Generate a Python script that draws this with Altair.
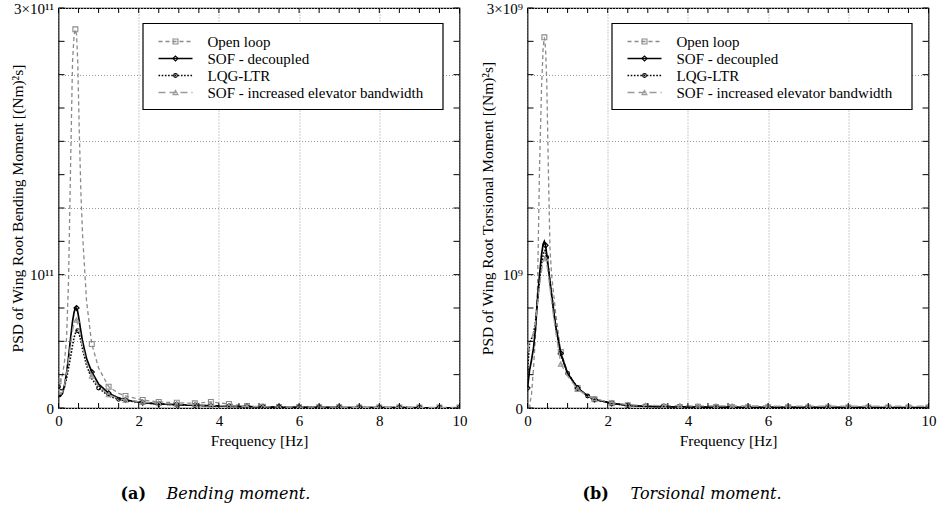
import altair as alt
import pandas as pd

# ---------------- data ----------------
freq = [0, 0.05, 0.1, 0.15, 0.2, 0.25, 0.3, 0.35, 0.39, 0.42, 0.45, 0.48, 0.52, 0.56, 0.6,
        0.7, 0.83, 1.0, 1.25, 1.5, 1.67, 2.1, 2.5, 2.95, 3.4, 3.8, 4.25, 4.7, 5.1, 5.5,
        6.0, 6.5, 7.0, 7.5, 8.0, 8.5, 9.0, 9.5, 10.0]

series_names = ["Open loop", "SOF - decoupled", "LQG-LTR", "SOF - increased elevator bandwidth"]

# Bending moment PSD, units of 1e11 (Nm)^2 s
bend_open = [0.20, 0.20, 0.25, 0.35, 0.52, 0.95, 1.80, 2.60, 2.80, 2.84, 2.80, 2.60, 2.05, 1.60, 1.30,
             0.80, 0.48, 0.30, 0.16, 0.11, 0.09, 0.06, 0.045, 0.04, 0.035, 0.045, 0.03, 0.015, 0.01, 0.007,
             0.006, 0.005, 0.005, 0.004, 0.004, 0.004, 0.003, 0.003, 0.003]
bend_sof = [0.10, 0.09, 0.11, 0.17, 0.26, 0.38, 0.52, 0.65, 0.72, 0.75, 0.75, 0.72, 0.65, 0.57, 0.50,
            0.37, 0.27, 0.18, 0.11, 0.075, 0.06, 0.04, 0.03, 0.025, 0.02, 0.017, 0.013, 0.01, 0.008, 0.006,
            0.005, 0.004, 0.004, 0.003, 0.003, 0.003, 0.002, 0.002, 0.002]
bend_lqg = [0.16, 0.14, 0.13, 0.16, 0.22, 0.30, 0.38, 0.47, 0.53, 0.56, 0.58, 0.58, 0.55, 0.50, 0.44,
            0.32, 0.22, 0.15, 0.09, 0.065, 0.055, 0.04, 0.03, 0.025, 0.02, 0.016, 0.012, 0.009, 0.007, 0.006,
            0.005, 0.004, 0.004, 0.003, 0.003, 0.003, 0.002, 0.002, 0.002]
bend_inc = [0.12, 0.11, 0.12, 0.17, 0.25, 0.36, 0.47, 0.58, 0.64, 0.66, 0.66, 0.63, 0.58, 0.52, 0.46,
            0.34, 0.24, 0.16, 0.10, 0.07, 0.06, 0.045, 0.035, 0.03, 0.025, 0.02, 0.016, 0.012, 0.01, 0.008,
            0.007, 0.006, 0.006, 0.005, 0.005, 0.005, 0.004, 0.004, 0.004]

# Torsional moment PSD, units of 1e9 (Nm)^2 s
tors_open = [0.0, 0.02, 0.10, 0.30, 0.55, 0.90, 1.80, 2.40, 2.70, 2.78, 2.70, 2.45, 1.80, 1.20, 1.00,
             0.72, 0.42, 0.27, 0.15, 0.09, 0.065, 0.035, 0.02, 0.012, 0.01, 0.008, 0.01, 0.008, 0.006, 0.005,
             0.005, 0.005, 0.004, 0.004, 0.004, 0.004, 0.003, 0.003, 0.003]
tors_sof = [0.15, 0.28, 0.36, 0.45, 0.60, 0.82, 1.00, 1.15, 1.23, 1.25, 1.22, 1.15, 1.05, 0.95, 0.85,
            0.62, 0.41, 0.26, 0.15, 0.09, 0.065, 0.035, 0.02, 0.012, 0.01, 0.008, 0.007, 0.006, 0.006, 0.005,
            0.005, 0.005, 0.004, 0.004, 0.004, 0.004, 0.003, 0.003, 0.003]
tors_lqg = [0.28, 0.48, 0.52, 0.56, 0.65, 0.80, 0.95, 1.08, 1.15, 1.18, 1.18, 1.13, 1.05, 0.95, 0.86,
            0.62, 0.40, 0.26, 0.15, 0.09, 0.065, 0.035, 0.02, 0.012, 0.01, 0.008, 0.007, 0.006, 0.006, 0.005,
            0.005, 0.005, 0.004, 0.004, 0.004, 0.004, 0.003, 0.003, 0.003]
tors_inc = [0.45, 0.50, 0.52, 0.56, 0.64, 0.78, 0.92, 1.03, 1.10, 1.12, 1.12, 1.08, 1.00, 0.90, 0.80,
            0.58, 0.33, 0.24, 0.14, 0.09, 0.07, 0.04, 0.025, 0.02, 0.018, 0.017, 0.016, 0.016, 0.015, 0.015,
            0.015, 0.014, 0.014, 0.014, 0.013, 0.013, 0.013, 0.013, 0.013]

# frequencies that carry a marker, per series
markers_open = [0, 0.42, 0.83, 1.25, 1.67, 2.1, 2.5, 2.95, 3.4, 3.8, 4.25, 4.7, 5.1, 5.5, 6.0, 6.5, 7.0,
                7.5, 8.0, 8.5, 9.0, 9.5, 10.0]
markers_sof = [0, 0.45, 0.83, 1.25, 1.67, 2.1, 2.5, 2.95, 3.4, 3.8, 4.25, 4.7, 5.1, 5.5, 6.0, 6.5, 7.0,
               7.5, 8.0, 8.5, 9.0, 9.5, 10.0]
markers_lqg = [0, 0.48, 1.0, 1.5, 2.1, 2.5, 2.95, 3.4, 3.8, 4.25, 4.7, 5.1, 5.5, 6.0, 6.5, 7.0,
               7.5, 8.0, 8.5, 9.0, 9.5, 10.0]
markers_inc = [0, 0.45, 0.83, 1.25, 1.67, 2.1, 2.5, 2.95, 3.4, 3.8, 4.25, 4.7, 5.1, 5.5, 6.0, 6.5, 7.0,
               7.5, 8.0, 8.5, 9.0, 9.5, 10.0]

x_ticks = [0, 0.5, 1, 1.5, 2, 2.5, 3, 3.5, 4, 4.5, 5, 5.5, 6, 6.5, 7, 7.5, 8, 8.5, 9, 9.5, 10]
x_grid = [0, 2, 4, 6, 8, 10]
y_ticks = [0, 0.25, 0.5, 0.75, 1, 1.25, 1.5, 1.75, 2, 2.25, 2.5, 2.75, 3]
y_grid = [0, 0.5, 1, 1.5, 2, 2.5, 3]

# ---------------- styles ----------------
FONT = "Liberation Serif"
CAP_FONT = "DejaVu Serif"
W, H = 401, 400
styles = {
    "Open loop": dict(color="#8a8a8a", dash=[4, 3], width=1.3, shape="square", size=24),
    "SOF - decoupled": dict(color="#000000", dash=[1, 0], width=1.7, shape="diamond", size=26),
    "LQG-LTR": dict(color="#000000", dash=[1.6, 1.6], width=1.6, shape="circle", size=14),
    "SOF - increased elevator bandwidth": dict(color="#9a9a9a", dash=[7, 4], width=1.3,
                                               shape="triangle-up", size=24),
}
draw_order = ["Open loop", "SOF - decoupled", "LQG-LTR", "SOF - increased elevator bandwidth"]


def panel(vals, marks, exp_label, y_title, title_x, tag, caption, tag_x, cap_x):
    xs = alt.Scale(domain=[0, 10], nice=False, zero=False)
    ys = alt.Scale(domain=[0, 3], nice=False, zero=False)
    xaxis = alt.Axis(values=x_grid, title="Frequency [Hz]", grid=True, ticks=False, domain=False,
                     gridDash=[1, 2], gridColor="#9a9a9a", gridWidth=1, labelPadding=5, titlePadding=5,
                     labelFlush=False, format="d")
    ylab = ("datum.value == 0 ? '0' : datum.value == 1 ? '10%s' : datum.value == 3 ? '3\u00d710%s' : ''"
            % (exp_label, exp_label))
    yaxis = alt.Axis(values=y_grid, title=y_title, grid=True, ticks=False, domain=False,
                     gridDash=[1, 2], gridColor="#9a9a9a", gridWidth=1, labelExpr=ylab, labelPadding=5,
                     titleX=title_x, titleY=H / 2)
    X = lambda fld: alt.X(fld, type="quantitative", scale=xs, axis=xaxis)
    Y = lambda fld: alt.Y(fld, type="quantitative", scale=ys, axis=yaxis)

    layers = []
    for name in draw_order:
        st = styles[name]
        df = pd.DataFrame({"f": freq, "v": vals[name]})
        dm = df[df["f"].isin(marks[name])]
        layers.append(alt.Chart(df).mark_line(color=st["color"], strokeDash=st["dash"],
                                              strokeWidth=st["width"], clip=True)
                      .encode(x=X("f"), y=Y("v")))
        layers.append(alt.Chart(dm).mark_point(shape=st["shape"], size=st["size"], filled=False,
                                               color=st["color"], strokeWidth=1.1, opacity=1, clip=True)
                      .encode(x=X("f"), y=Y("v")))

    # inward ticks on all four sides
    dxt = pd.DataFrame({"t": x_ticks})
    dyt = pd.DataFrame({"t": y_ticks})
    layers.append(alt.Chart(dxt).mark_rule(color="black", strokeWidth=1)
                  .encode(x=X("t"), y=alt.value(H), y2=alt.value(H - 5)))
    layers.append(alt.Chart(dxt).mark_rule(color="black", strokeWidth=1)
                  .encode(x=X("t"), y=alt.value(0), y2=alt.value(5)))
    layers.append(alt.Chart(dyt).mark_rule(color="black", strokeWidth=1)
                  .encode(y=Y("t"), x=alt.value(0), x2=alt.value(6)))
    layers.append(alt.Chart(dyt).mark_rule(color="black", strokeWidth=1)
                  .encode(y=Y("t"), x=alt.value(W), x2=alt.value(W - 6)))

    # legend box
    one = pd.DataFrame({"k": [0]})
    layers.append(alt.Chart(one).mark_rect(fill="white", stroke="black", strokeWidth=1.2)
                  .encode(x=alt.value(84.5), x2=alt.value(384.5), y=alt.value(15.5), y2=alt.value(101.5)))
    for i, name in enumerate(series_names):
        st = styles[name]
        yy = 33.5 + i * 17
        layers.append(alt.Chart(one).mark_rule(color=st["color"], strokeDash=st["dash"],
                                               strokeWidth=st["width"])
                      .encode(x=alt.value(100), x2=alt.value(134), y=alt.value(yy)))
        layers.append(alt.Chart(one).mark_point(shape=st["shape"], size=st["size"], filled=False,
                                                color=st["color"], strokeWidth=1.1, opacity=1)
                      .encode(x=alt.value(117), y=alt.value(yy)))
        layers.append(alt.Chart(one).mark_text(text=name, font=FONT, fontSize=15, align="left",
                                               baseline="middle", color="black")
                      .encode(x=alt.value(149), y=alt.value(yy + 0.5)))

    # caption below the panel
    layers.append(alt.Chart(one).mark_text(text=tag, font=CAP_FONT, fontSize=16, fontWeight="bold",
                                           align="left", baseline="middle", color="black")
                  .encode(x=alt.value(tag_x), y=alt.value(486)))
    layers.append(alt.Chart(one).mark_text(text=caption, font=CAP_FONT, fontSize=16, fontStyle="italic",
                                           align="left", baseline="middle", color="black")
                  .encode(x=alt.value(cap_x), y=alt.value(486)))

    return alt.layer(*layers).properties(width=W, height=H)


left = panel(
    {"Open loop": bend_open, "SOF - decoupled": bend_sof, "LQG-LTR": bend_lqg,
     "SOF - increased elevator bandwidth": bend_inc},
    {"Open loop": markers_open, "SOF - decoupled": markers_sof, "LQG-LTR": markers_lqg,
     "SOF - increased elevator bandwidth": markers_inc},
    "\u00b9\u00b9", "PSD of Wing Root Bending Moment [(Nm)\u00b2s]", -33.5, "(a)", "Bending moment.", 62, 108)

right = panel(
    {"Open loop": tors_open, "SOF - decoupled": tors_sof, "LQG-LTR": tors_lqg,
     "SOF - increased elevator bandwidth": tors_inc},
    {"Open loop": markers_open, "SOF - decoupled": markers_sof, "LQG-LTR": markers_lqg,
     "SOF - increased elevator bandwidth": markers_inc},
    "\u2079", "PSD of Wing Root Torsional Moment [(Nm)\u00b2s]", -32.5, "(b)", "Torsional moment.", 55, 103)

chart = alt.hconcat(left, right, spacing=10).properties(
    padding={"left": 8.5, "top": 0, "right": 0, "bottom": 0},
    background="white",
).configure_view(stroke="black", strokeWidth=1.2).configure_axis(
    labelFont=FONT, labelFontSize=15, labelColor="black",
    titleFont=FONT, titleFontSize=15.5, titleFontWeight="normal", titleColor="black",
)

chart.save("out.html", embed_options={"renderer": "svg", "actions": False})
